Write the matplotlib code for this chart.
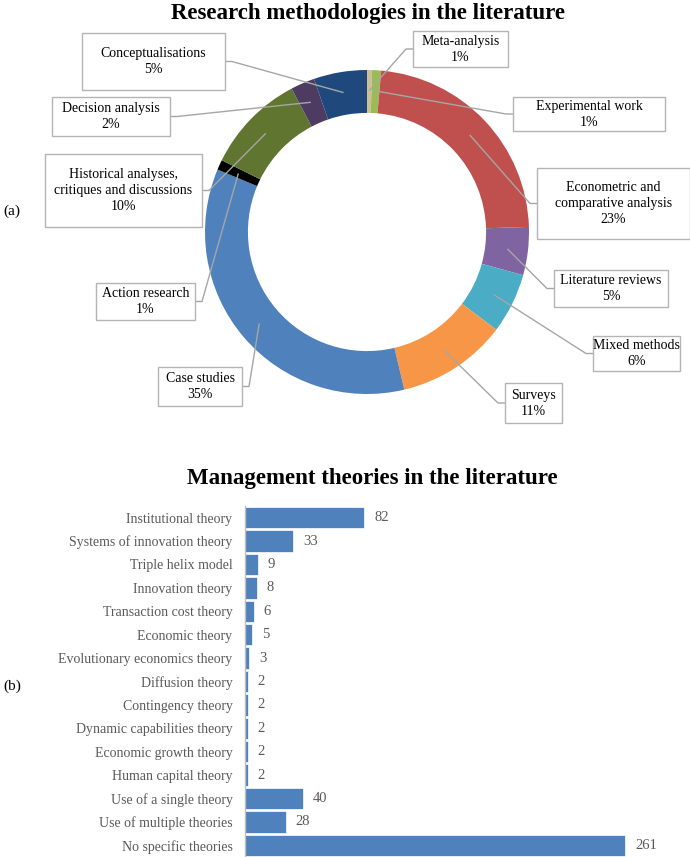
"""
Two-panel figure: research methodologies (donut) and management theories (bars).

Output:
    out.png
"""

import numpy as np
import matplotlib
matplotlib.use("Agg")
import matplotlib.pyplot as plt
from matplotlib.patches import Rectangle

plt.rcParams["font.family"] = ["Liberation Serif", "DejaVu Serif"]

FIG_W, FIG_H = 690, 857

# (a) research methodologies, clockwise from 12 o'clock
METHODS = [
    "Meta-analysis", "Experimental work", "Econometric and\ncomparative analysis",
    "Literature reviews", "Mixed methods", "Surveys", "Case studies",
    "Action research", "Historical analyses,\ncritiques and discussions",
    "Decision analysis", "Conceptualisations",
]
METHOD_SHARE = [0.5, 0.9, 23.1, 4.8, 6.0, 11.0, 35.0, 1.0, 10.0, 2.4, 5.3]
METHOD_LABEL_PCT = [1, 1, 23, 5, 6, 11, 35, 1, 10, 2, 5]
METHOD_COLOURS = [
    "#CDBF95", "#9BBB59", "#C0504D", "#8064A2", "#4BACC6", "#F79646",
    "#4F81BD", "#000000", "#5F7530", "#4D3B62", "#1F497D",
]

# (b) management theories, top to bottom
THEORIES = [
    "Institutional theory", "Systems of innovation theory", "Triple helix model",
    "Innovation theory", "Transaction cost theory", "Economic theory",
    "Evolutionary economics theory", "Diffusion theory", "Contingency theory",
    "Dynamic capabilities theory", "Economic growth theory", "Human capital theory",
    "Use of a single theory", "Use of multiple theories", "No specific theories",
]
THEORY_COUNTS = [82, 33, 9, 8, 6, 5, 3, 2, 2, 2, 2, 2, 40, 28, 261]

# label boxes in pixels (left, top, right, bottom), same order as METHODS
LABEL_BOXES = [
    (413, 31, 508, 67), (513, 97, 665, 131), (537, 168, 690, 239),
    (554, 270, 668, 307), (593, 336, 680, 371), (505, 383, 562, 423),
    (158, 367, 242, 406), (96, 283, 195, 320), (45, 154, 202, 227),
    (52, 97, 170, 136), (82, 33, 225, 90),
]

# donut geometry in pixels
CX, CY, R = 367, 232, 162
RING = 0.265

TEXT_GREY = "#595959"
LINE_GREY = "#A6A6A6"


def px_axes(fig, left, top, width, height):
    """Add axes from pixel position measured from the top-left corner."""
    return fig.add_axes([left / FIG_W, 1 - (top + height) / FIG_H,
                         width / FIG_W, height / FIG_H])


def draw_donut(fig, overlay):
    ax = px_axes(fig, CX - R, CY - R, 2 * R, 2 * R)
    wedges, _ = ax.pie(
        METHOD_SHARE, colors=METHOD_COLOURS, startangle=90, counterclock=False,
        radius=1.0, wedgeprops=dict(width=RING, linewidth=0),
    )
    ax.set_xlim(-1, 1)
    ax.set_ylim(-1, 1)
    ax.set_aspect("equal")
    ax.axis("off")
    for w in wedges:
        w.set_clip_on(False)

    # leader lines and label boxes
    for w, name, pct, box in zip(wedges, METHODS, METHOD_LABEL_PCT, LABEL_BOXES):
        mid = np.deg2rad((w.theta1 + w.theta2) / 2)
        r = 1 - RING / 2 + 0.005
        disp = ax.transData.transform((r * np.cos(mid), r * np.sin(mid)))
        ax_x, ax_y = overlay.transData.inverted().transform(disp)

        x0, y0, x1, y1 = box
        ym = (y0 + y1) / 2
        if x0 > CX:
            edge, stub = x0, x0 - 7
        else:
            edge, stub = x1, x1 + 7
        overlay.plot([ax_x, stub, edge], [ax_y, ym, ym], color=LINE_GREY,
                     lw=1, solid_capstyle="butt", zorder=2)
        overlay.add_patch(Rectangle((x0, y0), x1 - x0, y1 - y0, facecolor="white",
                                    edgecolor="#B4B4B4", lw=1, zorder=3))
        overlay.text((x0 + x1) / 2, ym, f"{name}\n{pct}%", ha="center",
                     va="center", fontsize=10, color="black",
                     linespacing=1.3, zorder=4)


def draw_bars(fig):
    ax = px_axes(fig, 245, 506, 437, 351)
    y = np.arange(len(THEORIES))
    bars = ax.barh(y, THEORY_COUNTS, height=0.92, color="#4F81BD",
                   edgecolor="white", linewidth=0.5)
    ax.set_xlim(0, 300)
    ax.set_ylim(len(THEORIES) - 0.5, -0.5)
    ax.set_yticks(y)
    ax.set_yticklabels(THEORIES, fontsize=10, color=TEXT_GREY)
    ax.set_xticks([])
    ax.tick_params(axis="y", length=0, pad=9)
    for side in ("top", "right", "bottom"):
        ax.spines[side].set_visible(False)
    ax.spines["left"].set_color("#BFBFBF")
    ax.spines["left"].set_linewidth(1)
    ax.patch.set_visible(False)
    for b, v in zip(bars, THEORY_COUNTS):
        ax.annotate(str(v), (b.get_width(), b.get_y() + b.get_height() / 2),
                    xytext=(7, 0), textcoords="offset points",
                    ha="left", va="center", fontsize=10.5, color=TEXT_GREY)


def main():
    fig = plt.figure(figsize=(FIG_W / 100, FIG_H / 100), dpi=100)

    overlay = fig.add_axes([0, 0, 1, 1], zorder=5)
    overlay.set_xlim(0, FIG_W)
    overlay.set_ylim(FIG_H, 0)
    overlay.axis("off")
    overlay.patch.set_visible(False)

    draw_donut(fig, overlay)
    draw_bars(fig)

    overlay.text(368, 13, "Research methodologies in the literature", ha="center",
                 va="center", fontsize=16.5, fontweight="bold")
    overlay.text(372, 478, "Management theories in the literature", ha="center",
                 va="center", fontsize=16.5, fontweight="bold")
    overlay.text(3, 211, "(a)", ha="left", va="center", fontsize=11)
    overlay.text(3, 686, "(b)", ha="left", va="center", fontsize=11)

    fig.savefig("out.png", dpi=100)
    plt.close(fig)


if __name__ == "__main__":
    main()
